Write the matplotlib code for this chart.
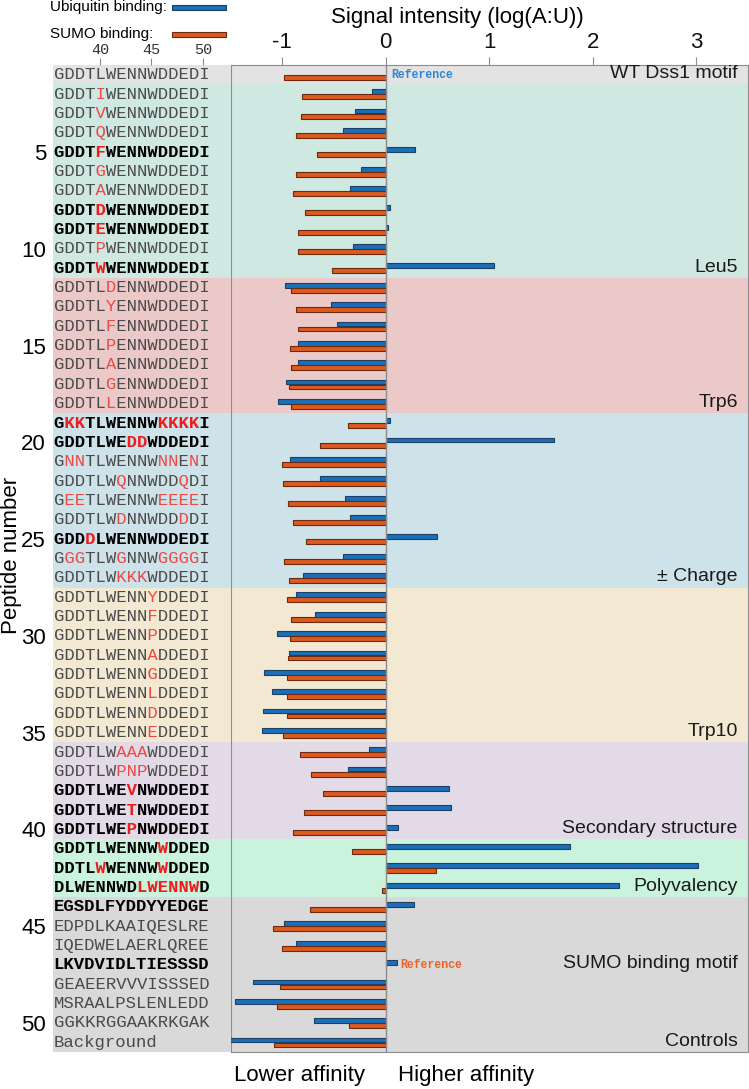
import numpy as np
import matplotlib
matplotlib.use("Agg")
from matplotlib import pyplot as plt
from matplotlib.patches import Rectangle

plt.rcParams['axes.unicode_minus'] = False
plt.rcParams['font.family'] = ['Liberation Sans', 'DejaVu Sans']

# peptide sequences, mutated positions in brackets
sequences = [
    "GDDTLWENNWDDEDI",
    "GDDT[I]WENNWDDEDI", "GDDT[V]WENNWDDEDI", "GDDT[Q]WENNWDDEDI",
    "GDDT[F]WENNWDDEDI", "GDDT[G]WENNWDDEDI", "GDDT[A]WENNWDDEDI",
    "GDDT[D]WENNWDDEDI", "GDDT[E]WENNWDDEDI", "GDDT[P]WENNWDDEDI",
    "GDDT[W]WENNWDDEDI",
    "GDDTL[D]ENNWDDEDI", "GDDTL[Y]ENNWDDEDI", "GDDTL[F]ENNWDDEDI",
    "GDDTL[P]ENNWDDEDI", "GDDTL[A]ENNWDDEDI", "GDDTL[G]ENNWDDEDI",
    "GDDTL[L]ENNWDDEDI",
    "G[KK]TLWENNW[KKKK]I", "GDDTLWE[DD]WDDEDI", "G[NN]TLWENNW[NN]E[N]I",
    "GDDTLW[Q]NNWDD[Q]DI", "G[EE]TLWENNW[EEEE]I", "GDDTLW[D]NNWDD[D]DI",
    "GDD[D]LWENNWDDEDI", "G[GG]TLW[G]NNW[GGGG]I", "GDDTLW[KKK]WDDEDI",
    "GDDTLWENN[Y]DDEDI", "GDDTLWENN[F]DDEDI", "GDDTLWENN[P]DDEDI",
    "GDDTLWENN[A]DDEDI", "GDDTLWENN[G]DDEDI", "GDDTLWENN[L]DDEDI",
    "GDDTLWENN[D]DDEDI", "GDDTLWENN[E]DDEDI",
    "GDDTLW[AAA]WDDEDI", "GDDTLW[PNP]WDDEDI", "GDDTLWE[V]NWDDEDI",
    "GDDTLWE[T]NWDDEDI", "GDDTLWE[P]NWDDEDI",
    "GDDTLWENNW[W]DDED", "DDTL[W]WENNW[W]DDED", "DLWENNWD[LWENNW]D",
    "EGSDLFYDDYYEDGE", "EDPDLKAAIQESLRE", "IQEDWELAERLQREE",
    "LKVDVIDLTIESSSD", "GEAEERVVVISSSED", "MSRAALPSLENLEDD",
    "GGKKRGGAAKRKGAK", "Background",
]
bold_rows = [5, 8, 9, 11, 19, 20, 25, 38, 39, 40, 41, 42, 43, 44, 47]

# log(A:U) signal, nan = reference / not shown
ubiquitin = [
    np.nan, -0.13, -0.30, -0.41, 0.28, -0.24, -0.34, 0.04, 0.02, -0.31, 1.05,
    -0.97, -0.53, -0.47, -0.85, -0.85, -0.96, -1.04,
    0.04, 1.63, -0.92, -0.63, -0.39, -0.34, 0.50, -0.41, -0.80,
    -0.87, -0.68, -1.05, -0.93, -1.17, -1.10, -1.18, -1.19,
    -0.16, -0.36, 0.61, 0.63, 0.12,
    1.78, 3.02, 2.25,
    0.27, -0.98, -0.87, 0.11, -1.28, -1.45, -0.69, -1.55,
]
sumo = [
    -0.98, -0.81, -0.82, -0.87, -0.66, -0.87, -0.89, -0.78, -0.85, -0.85, -0.52,
    -0.91, -0.87, -0.85, -0.92, -0.91, -0.93, -0.91,
    -0.36, -0.63, -1.00, -0.99, -0.94, -0.89, -0.77, -0.98, -0.93,
    -0.95, -0.91, -0.92, -0.94, -0.95, -0.95, -0.95, -0.99,
    -0.83, -0.72, -0.60, -0.79, -0.89,
    -0.32, 0.49, -0.03,
    -0.73, -1.09, -1.00, np.nan, -1.02, -1.05, -0.35, -1.08,
]

groups = ["WT Dss1 motif", "Leu5", "Trp6", "\u00b1 Charge", "Trp10",
          "Secondary structure", "Polyvalency", "Controls"]
group_rows = [(1, 1), (2, 11), (12, 18), (19, 27), (28, 35), (36, 40),
              (41, 43), (44, 51)]
group_colors = ["#e3e3e3", "#cfe8e2", "#ecc9c9", "#cde2e9", "#f3e9d2",
                "#e3dae8", "#c9f3dd", "#d9d9d9"]


def split_seq(s):
    plain, red = "", ""
    inside = False
    for ch in s:
        if ch == "[":
            inside = True
        elif ch == "]":
            inside = False
        elif inside:
            plain += " "
            red += ch
        else:
            plain += ch
            red += " "
    return plain, red


def main():
    fig = plt.figure(figsize=(7.49, 10.89), dpi=100)
    W, H = 749, 1089
    top, bottom = 65, 1052
    ax = fig.add_axes([231 / W, 1 - bottom / H, 517 / W, (bottom - top) / H])
    sq = fig.add_axes([53 / W, 1 - bottom / H, 178 / W, (bottom - top) / H])

    n = len(sequences)
    rows = np.arange(1, n + 1)
    for a in (ax, sq):
        a.set_ylim(n + 0.5, 0.5)
        for (r0, r1), c in zip(group_rows, group_colors):
            a.axhspan(r0 - 0.5, r1 + 0.5, color=c, lw=0, zorder=0)

    # bars
    ub = np.array(ubiquitin)
    su = np.array(sumo)
    m = ~np.isnan(ub)
    ax.barh(rows[m] - 0.12, ub[m], height=0.25, color="#1a6fba",
            edgecolor="#1d3f63", linewidth=0.8, zorder=3)
    m = ~np.isnan(su)
    ax.barh(rows[m] + 0.14, su[m], height=0.25, color="#dc5a1e",
            edgecolor="#6b2a10", linewidth=0.8, zorder=3)
    ax.axvline(0, color="#8c8c8c", lw=1, zorder=4)

    ax.set_xlim(-1.493, 3.50)
    ax.xaxis.tick_top()
    ax.set_xticks([-1, 0, 1, 2, 3])
    ax.tick_params(axis="x", labelsize=16, length=6, color="#8c8c8c",
                   pad=3, labelcolor="#111111")
    ax.set_yticks(np.arange(5, 51, 5))
    ax.tick_params(axis="y", labelleft=False, length=7, color="#8c8c8c")
    for s in ax.spines.values():
        s.set_color("#8c8c8c")

    ax.text(0.05, 1, "Reference", color="#2f86d6", fontsize=8.3,
            family="Liberation Mono", fontweight="bold", va="center", zorder=5)
    ax.text(0.14, 47, "Reference", color="#e8642a", fontsize=8.3,
            family="Liberation Mono", fontweight="bold", va="center", zorder=5)

    label_rows = [1, 11, 18, 27, 35, 40, 43, 51]
    for g, r in zip(groups, label_rows):
        ax.text(3.40, r - 0.05, g, ha="right", va="center", fontsize=14,
                color="#1a1a1a", zorder=5)
    ax.text(3.40, 46.95, "SUMO binding motif", ha="right", va="center",
            fontsize=14, color="#1a1a1a", zorder=5)

    # sequence column
    sq.set_xlim(35.44, 52.72)
    for s in sq.spines.values():
        s.set_visible(False)
    sq.xaxis.tick_top()
    sq.set_xticks([40, 45, 50])
    sq.tick_params(axis="x", labelsize=11, length=5, pad=1,
                   color="#8c8c8c", labelcolor="#333333")
    for t in sq.get_xticklabels():
        t.set_family("Liberation Mono")
    sq.set_yticks(np.arange(5, 51, 5))
    sq.tick_params(axis="y", labelsize=16, length=0, pad=5)

    for r, s in zip(rows, sequences):
        plain, red = split_seq(s)
        bold = r in bold_rows
        kw = dict(family="Liberation Mono", fontsize=12.4, va="center",
                  ha="left", fontweight="bold" if bold else "normal")
        sq.text(35.5, r, plain, color="#000000" if bold else "#4a4a4a", **kw)
        sq.text(35.5, r, red, color="#ee1c1c" if bold else "#ec4a45", **kw)

    fig.text(457 / W, 1 - 18 / H, "Signal intensity (log(A:U))",
             fontsize=16, ha="center", va="center")
    fig.text(12 / W, 1 - 555 / H, "Peptide number", fontsize=16,
             rotation=90, ha="center", va="center")
    fig.text(300 / W, 1 - 1075 / H, "Lower affinity", fontsize=16,
             ha="center", va="center")
    fig.text(466 / W, 1 - 1075 / H, "Higher affinity", fontsize=16,
             ha="center", va="center")

    # legend
    fig.text(50 / W, 1 - 7 / H, "Ubiquitin binding:", fontsize=11,
             ha="left", va="center")
    fig.text(50 / W, 1 - 34 / H, "SUMO binding:", fontsize=11,
             ha="left", va="center")
    fig.add_artist(Rectangle((172 / W, 1 - 10 / H), 54 / W, 5 / H,
                             transform=fig.transFigure, facecolor="#1a6fba",
                             edgecolor="#1d3f63", lw=0.8))
    fig.add_artist(Rectangle((172 / W, 1 - 37 / H), 54 / W, 5 / H,
                             transform=fig.transFigure, facecolor="#dc5a1e",
                             edgecolor="#6b2a10", lw=0.8))

    fig.savefig("out.png", dpi=100)


if __name__ == "__main__":
    main()
